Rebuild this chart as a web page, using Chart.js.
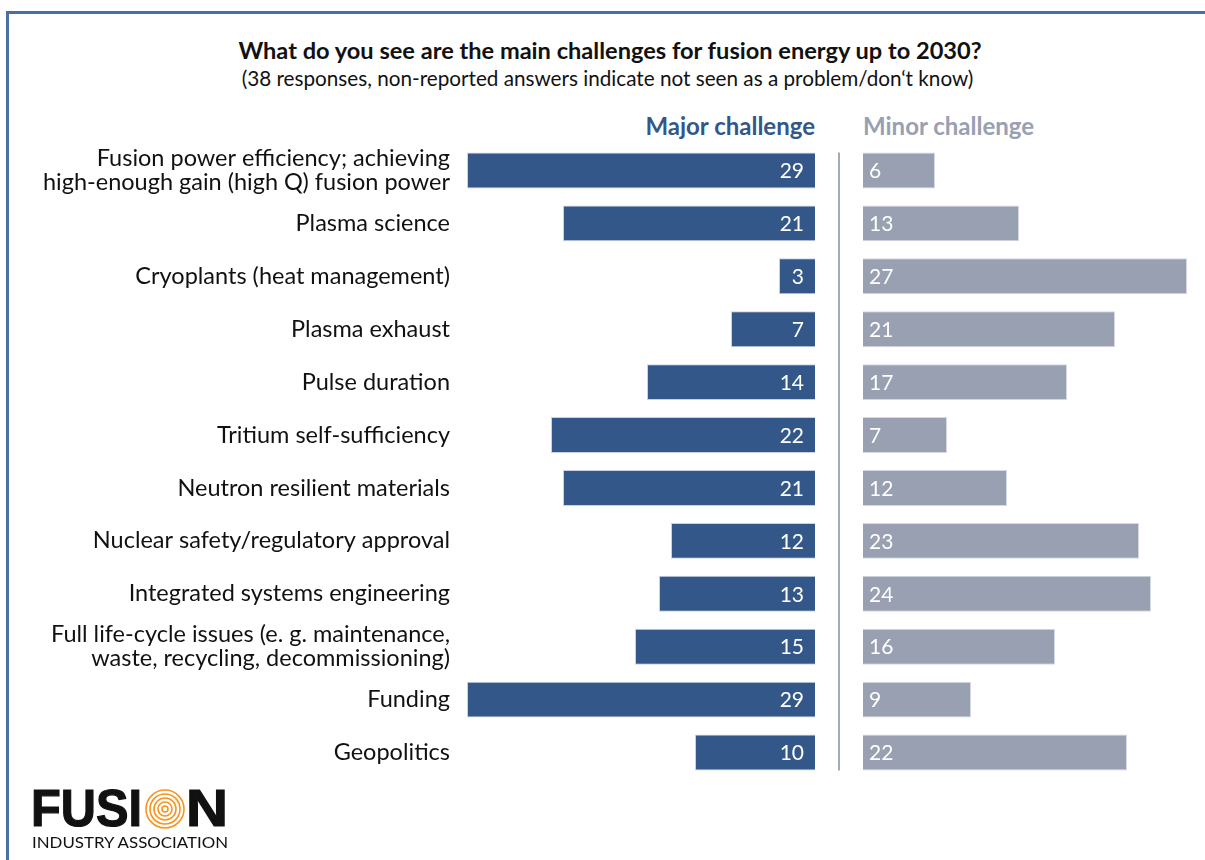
<!DOCTYPE html>
<html>
<head>
<meta charset="utf-8">
<script src="https://cdn.jsdelivr.net/npm/chart.js@4.4.1/dist/chart.umd.min.js"></script>
<style>
  html, body { margin: 0; padding: 0; background: #fff; }
  body { width: 1205px; height: 860px; position: relative; overflow: hidden; font-family: Lato, "Open Sans", sans-serif; }
  .marco { position: absolute; left: 6px; top: 11px; width: 1300px; height: 900px; border-top: 3px solid #4b6fa3; border-left: 3px solid #4b6fa3; }
  .titulo { position: absolute; left: 0; width: 1220px; top: 36px; line-height: 28px; text-align: center; font-weight: bold; font-size: 23.6px; color: #111; }
  .subtitulo { position: absolute; left: 0; width: 1215px; top: 65px; line-height: 26px; text-align: center; font-size: 20.7px; color: #111; }
  .cab { position: absolute; top: 112px; line-height: 28px; font-weight: bold; font-size: 24px; }
  .cab-mayor { right: 390px; color: #34578a; }
  .cab-menor { left: 863px; color: #98a0b2; }
  .caja { position: absolute; top: 144px; height: 635px; }
  #caja-mayor { left: 0; width: 830px; }
  #caja-menor { left: 830px; width: 375px; }
  .logo { position: absolute; left: 0; top: 770px; }
</style>
</head>
<body>
<div class="marco"></div>
<div class="titulo">What do you see are the main challenges for fusion energy up to 2030?</div>
<div class="subtitulo">(38 responses, non-reported answers indicate not seen as a problem/don‘t know)</div>
<div class="cab cab-mayor">Major challenge</div>
<div class="cab cab-menor">Minor challenge</div>
<div class="caja" id="caja-mayor"><canvas id="chart-mayor"></canvas></div>
<div class="caja" id="caja-menor"><canvas id="chart-menor"></canvas></div>
<svg class="logo" width="300" height="90" viewBox="0 0 300 90">
  <text x="31" y="56" font-family="Liberation Sans, Arial, sans-serif" font-weight="bold" font-size="52" fill="#111" stroke="#111" stroke-width="1.2" textLength="111" lengthAdjust="spacingAndGlyphs">FUSI</text>
  <g fill="none" stroke="#f7941d" stroke-width="1.6">
    <circle cx="165" cy="39" r="19"/>
    <circle cx="165" cy="39" r="15"/>
    <circle cx="165" cy="39" r="11"/>
    <circle cx="165" cy="39" r="7"/>
    <circle cx="165" cy="39" r="3"/>
  </g>
  <text x="186" y="56" font-family="Liberation Sans, Arial, sans-serif" font-weight="bold" font-size="52" fill="#111" stroke="#111" stroke-width="1.2" textLength="42" lengthAdjust="spacingAndGlyphs">N</text>
  <text x="32" y="78" font-family="Lato, sans-serif" font-size="15" fill="#111" textLength="196" lengthAdjust="spacingAndGlyphs">INDUSTRY ASSOCIATION</text>
</svg>
<script>
// Encuesta FIA: retos principales para la energía de fusión hasta 2030
var categorias = [
  ['Fusion power efficiency; achieving', 'high-enough gain (high Q) fusion power'],
  'Plasma science',
  'Cryoplants (heat management)',
  'Plasma exhaust',
  'Pulse duration',
  'Tritium self-sufficiency',
  'Neutron resilient materials',
  'Nuclear safety/regulatory approval',
  'Integrated systems engineering',
  ['Full life-cycle issues (e. g. maintenance,', 'waste, recycling, decommissioning)'],
  'Funding',
  'Geopolitics'
];
var retoMayor = [29, 21, 3, 7, 14, 22, 21, 12, 13, 15, 29, 10];
var retoMenor = [6, 13, 27, 21, 17, 7, 12, 23, 24, 16, 9, 22];

var AZUL = '#34578a';
var GRIS = '#98a0b2';
var FUENTE = 'Lato, "Open Sans", sans-serif';

// etiquetas blancas dentro de cada barra, pegadas al eje cero
var etiquetas = {
  id: 'etiquetas',
  afterDatasetsDraw: function (chart, args, opts) {
    var ctx = chart.ctx;
    var meta = chart.getDatasetMeta(0);
    var datos = chart.data.datasets[0].data;
    ctx.save();
    ctx.fillStyle = '#fff';
    ctx.font = '21px ' + FUENTE;
    ctx.textBaseline = 'middle';
    ctx.textAlign = opts.lado === 'der' ? 'right' : 'left';
    meta.data.forEach(function (bar, i) {
      var x = opts.lado === 'der' ? bar.base - 11 : bar.base + 6;
      ctx.fillText(String(datos[i]), x, bar.y + 1);
    });
    ctx.restore();
  }
};

// línea vertical que separa las dos columnas
var divisor = {
  id: 'divisor',
  afterDraw: function (chart) {
    var meta = chart.getDatasetMeta(0);
    if (!meta.data.length) return;
    var first = meta.data[0], last = meta.data[meta.data.length - 1];
    var ctx = chart.ctx;
    var x = chart.chartArea.left - 24;
    ctx.save();
    ctx.strokeStyle = '#a3aabb';
    ctx.lineWidth = 2;
    ctx.beginPath();
    ctx.moveTo(x, first.y - first.height / 2);
    ctx.lineTo(x, last.y + last.height / 2);
    ctx.stroke();
    ctx.restore();
  }
};

function opcionesBase() {
  return {
    indexAxis: 'y',
    responsive: true,
    maintainAspectRatio: false,
    animation: false,
    events: [],
    plugins: { legend: { display: false }, tooltip: { enabled: false } }
  };
}

var optMayor = opcionesBase();
optMayor.layout = { padding: { right: 15 } };
optMayor.plugins.etiquetas = { lado: 'der' };
optMayor.scales = {
  x: { display: false, reverse: true, min: 0, max: 29 },
  y: {
    grid: { display: false, drawTicks: false },
    border: { display: false },
    afterFit: function (scale) {
      // ancho fijo para las etiquetas y sin relleno vertical extra
      scale.width = 467;
      scale.paddingTop = 0;
      scale.paddingBottom = 0;
    },
    ticks: { color: '#111', padding: 17, autoSkip: false, font: { family: FUENTE, size: 23.5, lineHeight: '24px' } }
  }
};

new Chart(document.getElementById('chart-mayor'), {
  type: 'bar',
  data: { labels: categorias, datasets: [{ data: retoMayor, backgroundColor: AZUL, borderColor: '#c9d2e2', borderWidth: 1, categoryPercentage: 1, barPercentage: 0.68 }] },
  options: optMayor,
  plugins: [etiquetas]
});

var optMenor = opcionesBase();
optMenor.layout = { padding: { left: 33 } };
optMenor.plugins.etiquetas = { lado: 'izq' };
optMenor.scales = {
  x: { display: false, min: 0, max: 28.5 },
  y: { display: false }
};

new Chart(document.getElementById('chart-menor'), {
  type: 'bar',
  data: { labels: categorias, datasets: [{ data: retoMenor, backgroundColor: GRIS, borderColor: '#d3d8e2', borderWidth: 1, categoryPercentage: 1, barPercentage: 0.68 }] },
  options: optMenor,
  plugins: [etiquetas, divisor]
});
</script>
</body>
</html>
